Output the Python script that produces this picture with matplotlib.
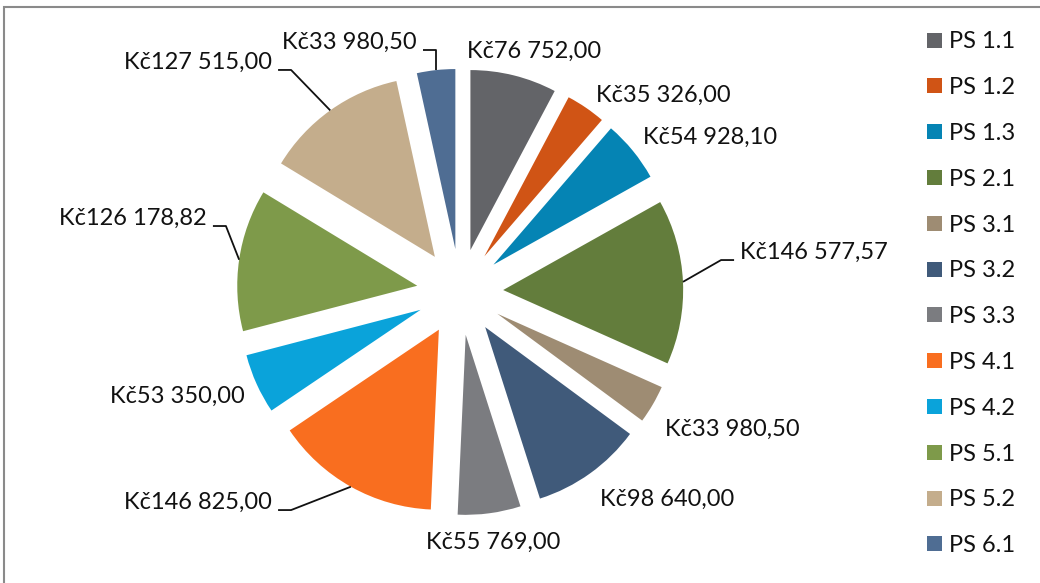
import numpy as np
import matplotlib
matplotlib.use("Agg")
import matplotlib.pyplot as plt
from matplotlib.patches import Patch, Rectangle

categories = ["PS 1.1", "PS 1.2", "PS 1.3", "PS 2.1", "PS 3.1", "PS 3.2",
              "PS 3.3", "PS 4.1", "PS 4.2", "PS 5.1", "PS 5.2", "PS 6.1"]
values = [76752.00, 35326.00, 54928.10, 146577.57, 33980.50, 98640.00,
          55769.00, 146825.00, 53350.00, 126178.82, 127515.00, 33980.50]
colors = ["#636468", "#D05415", "#0584B4", "#637D3C", "#9E8C73", "#405A7A",
          "#7B7C80", "#F96E1F", "#0AA3DA", "#7E9A4A", "#C4AD8C", "#4F6D93"]


def fmt_czk(v):
    s = f"{v:,.2f}".replace(",", " ").replace(".", ",")
    return "Kč" + s


# label layout (data units, pie radius = 1): anchor x, y, alignment, leader line
label_pos = [(0.039, 1.339, "left", False),
             (0.756, 1.094, "left", False),
             (1.017, 0.861, "left", False),
             (1.556, 0.222, "left", True),
             (1.139, -0.761, "left", False),
             (0.778, -1.150, "left", False),
             (0.183, -1.389, "center", False),
             (-1.044, -1.167, "right", True),
             (-1.194, -0.578, "right", False),
             (-1.406, 0.411, "right", True),
             (-1.044, 1.278, "right", True),
             (-0.239, 1.389, "right", True)]

W, H = 1040, 583
R = 180.0          # pie radius in px
cx, cy = 460, 292  # pie centre in px (from top-left)
explode = 0.24

plt.rcParams["font.family"] = ["Lato", "DejaVu Sans"]
fig = plt.figure(figsize=(W / 100, H / 100), dpi=100)
ax = fig.add_axes([0, 0, 1, 1])

wedges, _ = ax.pie(values, colors=colors, startangle=90, counterclock=False,
                   explode=[explode] * len(values), radius=1,
                   wedgeprops=dict(linewidth=0))
ax.set_aspect("auto")
ax.set_xlim(-cx / R, (W - cx) / R)
ax.set_ylim(-(H - cy) / R, cy / R)
ax.axis("off")

for w, v, (lx, ly, ha, leader) in zip(wedges, values, label_pos):
    ax.text(lx, ly, fmt_czk(v), ha=ha, va="center", fontsize=17, color="#111111")
    if leader:
        mid = np.deg2rad((w.theta1 + w.theta2) / 2)
        px = w.center[0] + w.r * np.cos(mid)
        py = w.center[1] + w.r * np.sin(mid)
        sgn = 1 if ha == "left" else -1
        hy = ly - 8 / R
        x_end = lx - sgn * 6 / R
        x_elb = x_end - sgn * 13 / R
        if abs(px - x_elb) < 20 / R and ha == "right" and ly > 1.3:
            x_elb = px
        ax.plot([x_end, x_elb, px], [hy, hy, py], color="#111111", lw=1.3,
                solid_capstyle="butt")

handles = [Patch(facecolor=c, edgecolor="none") for c in colors]
fig.legend(handles, categories, loc="upper left",
           bbox_to_anchor=(918 / W, 1 - 22 / H), frameon=False, fontsize=17,
           handlelength=0.6, handleheight=0.6, handletextpad=0.3,
           labelspacing=1.05, borderaxespad=0, labelcolor="#111111")

fig.patches.append(Rectangle((4 / W, -0.1), 2.0, (1 - 7 / H) + 0.1,
                             transform=fig.transFigure, fill=False,
                             edgecolor="#8A8A8A", lw=1.5))

fig.savefig("out.png", dpi=100)
